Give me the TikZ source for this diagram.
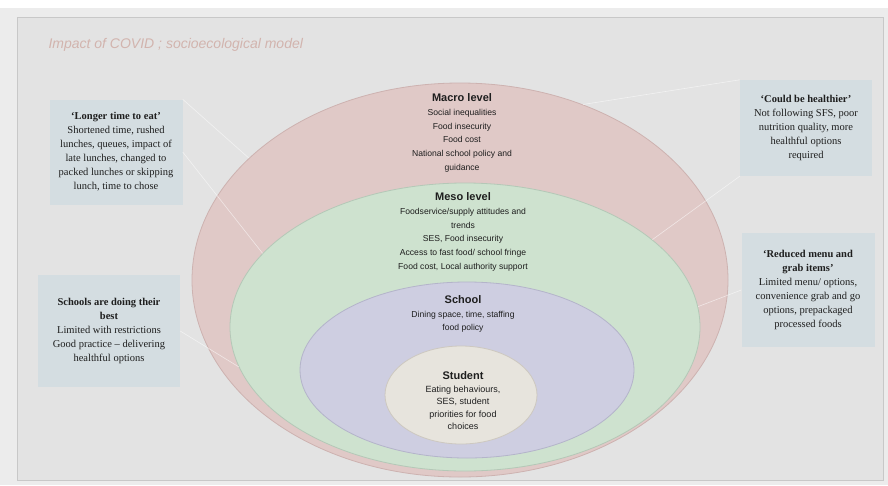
\documentclass[tikz,border=0pt]{standalone}
\usepackage{fontspec}
\setmainfont{Liberation Serif}
\setsansfont{Liberation Sans}
\usetikzlibrary{shapes.geometric}
\definecolor{bgc}{RGB}{227,227,227}
\definecolor{outc}{RGB}{236,236,236}
\definecolor{framec}{RGB}{200,200,200}
\definecolor{pinkc}{RGB}{224,201,199}
\definecolor{pinkl}{RGB}{205,178,176}
\definecolor{greenc}{RGB}{206,226,207}
\definecolor{greenl}{RGB}{180,200,183}
\definecolor{purc}{RGB}{206,206,225}
\definecolor{purl}{RGB}{180,180,202}
\definecolor{stuc}{RGB}{231,228,221}
\definecolor{stul}{RGB}{205,200,192}
\definecolor{boxc}{RGB}{212,221,225}
\definecolor{titc}{RGB}{210,180,174}
\definecolor{txtc}{RGB}{30,30,30}
\tikzset{
  ring/.style={ellipse, draw=#1, line width=0.8pt, inner sep=0pt},
  quote/.style={fill=boxc, draw=none, align=center, text=txtc, inner sep=2pt,
     font=\rmfamily\fontsize{10.5}{14}\selectfont},
  lvl/.style={align=center, text=txtc, font=\sffamily\fontsize{8.6}{13.8}\selectfont},
  lvltitle/.style={},
  conn/.style={draw=white, opacity=0.55, line width=0.6pt}
}
\newcommand{\lvlhead}[1]{{\bfseries\fontsize{11}{13.8}\selectfont #1}}
\begin{document}
\begin{tikzpicture}[x=1pt,y=-1pt]
\useasboundingbox (0,0) rectangle (888,485);
\fill[outc] (0,0) rectangle (888,485);
\fill[white] (0,0) rectangle (888,8);
\fill[bgc, draw=framec, line width=1pt] (17,17) rectangle (883,480);

\node[anchor=west, text=titc, font=\sffamily\itshape\fontsize{14}{16}\selectfont] (title) at (45,45) {Impact of COVID ; socioecological model};

% rings
\node[ring=pinkl, fill=pinkc, minimum width=536pt, minimum height=394pt] (macro) at (460,280) {};
\node[ring=greenl, fill=greenc, minimum width=470pt, minimum height=288pt] (meso) at (465,327) {};
\node[ring=purl, fill=purc, minimum width=334pt, minimum height=176pt] (school) at (467,370) {};
\node[ring=stul, fill=stuc, minimum width=152pt, minimum height=98pt] (student) at (461,395) {};

% level texts
\node[lvl] (macrot) at (462,133) {\lvlhead{Macro level}\\ Social inequalities\\ Food insecurity\\ Food cost\\ National school policy and\\ guidance};
\node[lvl] (mesot) at (463,232) {\lvlhead{Meso level}\\ Foodservice/supply attitudes and\\ trends\\ SES, Food insecurity\\ Access to fast food/ school fringe\\ Food cost, Local authority support};
\node[lvl] (schoolt) at (463,314) {\lvlhead{School}\\ Dining space, time, staffing\\ food policy};
\node[lvl, font=\sffamily\fontsize{9}{12.5}\selectfont] (studentt) at (463,401) {\lvlhead{Student}\\ Eating behaviours,\\ SES, student\\ priorities for food\\ choices};

% quote boxes
\node[quote, minimum width=133pt, minimum height=105pt] (lt) at (116,152) {{\bfseries `Longer time to eat'}\\ Shortened time, rushed\\ lunches, queues, impact of\\ late lunches, changed to\\ packed lunches or skipping\\ lunch, time to chose};
\node[quote, minimum width=132pt, minimum height=96pt] (rt) at (806,128) {{\bfseries `Could be healthier'}\\ Not following SFS, poor\\ nutrition quality, more\\ healthful options\\ required};
\node[quote, minimum width=133pt, minimum height=114pt] (rb) at (808,290) {{\bfseries `Reduced menu and}\\ {\bfseries grab items'}\\ Limited menu/ options,\\ convenience grab and go\\ options, prepackaged\\ processed foods};
\node[quote, minimum width=142pt, minimum height=112pt] (lb) at (109,331) {{\bfseries Schools are doing their}\\ {\bfseries best}\\ Limited with restrictions\\ Good practice -- delivering\\ healthful options};

% faint connectors
\draw[conn] (lt.north east) -- (macro.150);
\draw[conn] (lt.east) -- (meso.160);
\draw[conn] (rt.north west) -- (macro.55);
\draw[conn] (rt.south west) -- (meso.25);
\draw[conn] (rb.west) -- (meso.5);
\draw[conn] (lb.east) -- (meso.190);
\end{tikzpicture}
\end{document}
